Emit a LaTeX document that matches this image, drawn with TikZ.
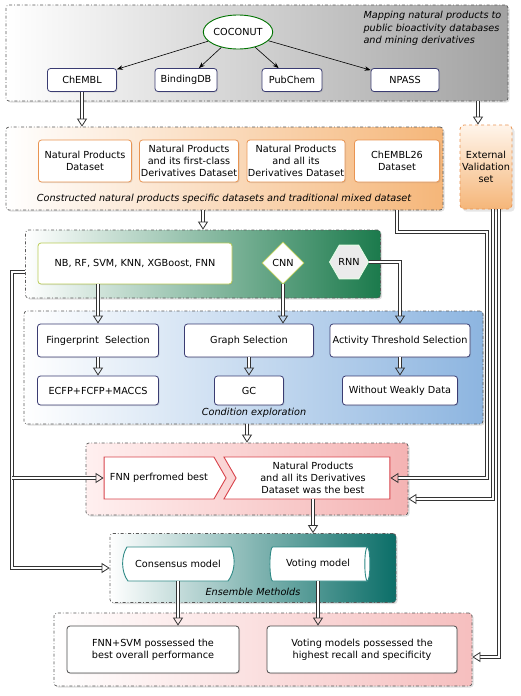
\documentclass[tikz,border=0pt]{standalone}
\usepackage{fontspec}
\setmainfont{DejaVu Sans}
\usetikzlibrary{shapes.geometric, shapes.symbols, arrows.meta, shadows}

\definecolor{navy}{HTML}{3A3C72}
\definecolor{boxorange}{HTML}{E99452}
\definecolor{boxred}{HTML}{D8434B}
\definecolor{boxteal}{HTML}{2F8A86}
\definecolor{leaf}{HTML}{B9CC57}
\definecolor{grayend}{HTML}{A2A2A2}
\definecolor{orangeend}{HTML}{F5B679}
\definecolor{greenend}{HTML}{1B7A4C}
\definecolor{blueend}{HTML}{8DB5E0}
\definecolor{pinkend}{HTML}{F4B3B3}
\definecolor{tealend}{HTML}{0B6E68}

\begin{document}
\begin{tikzpicture}[x=1pt, y=-1pt, font=\fontsize{9.7}{12}\selectfont,
  grp/.style={draw=black!65, line width=0.7pt, dash dot, rounded corners=3pt, drop shadow={opacity=0.25, shadow xshift=1.5pt, shadow yshift=-1.5pt}},
  box/.style={draw=navy, line width=0.8pt, rounded corners=3pt, fill=white, align=center, inner sep=1pt, drop shadow={opacity=0.2, shadow xshift=1pt, shadow yshift=-1pt}},
  dbox/.style={box, draw=boxorange},
  captxt/.style={font=\fontsize{9.7}{12.5}\selectfont\itshape},
  dbl/.style={draw=black!80, double=white, double distance=2pt, line width=1pt, -{Triangle[open, length=8pt, width=10pt, line width=0.8pt]}},
  thin arr/.style={black, line width=0.6pt, -{Stealth[length=6pt]}}]
\useasboundingbox (0,0) rectangle (520,696);

% mapping
\node[grp, left color=white, right color=grayend, minimum width=502, minimum height=96] (gtop) at (257,53) {};
\node[captxt, align=left, anchor=north west] (maptxt) at (360,8) {Mapping natural products to\\public bioactivity databases\\and mining derivatives};
\node[ellipse, draw=green!45!black, line width=0.9pt, fill=white, minimum width=69, minimum height=34, inner sep=0] (coco) at (238,32) {COCONUT};
\node[box, minimum width=69, minimum height=23] (chembl) at (82,80) {ChEMBL};
\node[box, minimum width=62, minimum height=23] (bind) at (186,80) {BindingDB};
\node[box, minimum width=60, minimum height=23] (pub) at (292,80) {PubChem};
\node[box, minimum width=68, minimum height=23] (npass) at (405,80) {NPASS};
\draw[thin arr] (coco) -- (chembl);
\draw[thin arr] (coco) -- (bind);
\draw[thin arr] (coco) -- (pub);
\draw[thin arr] (coco) -- (npass);

% datasets
\node[grp, left color=white, right color=orangeend, minimum width=437, minimum height=83] (gdata) at (224.5,168.5) {};
\node[dbox, minimum width=93, minimum height=42] (npd) at (85,161) {Natural Products\\Dataset};
\node[dbox, minimum width=99, minimum height=42] (npf) at (189,161) {Natural Products\\and its first-class\\Derivatives Dataset};
\node[dbox, minimum width=98, minimum height=42] (npa) at (296,161) {Natural Products\\and all its\\Derivatives Dataset};
\node[dbox, minimum width=85, minimum height=42] (c26) at (397,161) {ChEMBL26\\Dataset};
\node[captxt] (datatxt) at (224,199) {Constructed natural products specific datasets and traditional mixed dataset};
\node[draw=boxorange, line width=0.8pt, dashed, rounded corners=4pt, top color=orange!8, bottom color=orangeend, minimum width=52, minimum height=84, align=center, inner sep=0, drop shadow={opacity=0.2}] (ext) at (486,167) {External\\Validation\\set};
\draw[dbl] (chembl.south) -- (chembl.south |- gdata.north);
\draw[dbl] ([xshift=-8]ext.north |- gtop.south) -- ([xshift=-8]ext.north);

% models
\node[grp, left color=white, right color=greenend, minimum width=355, minimum height=68] (gmod) at (203,264) {};
\node[box, draw=leaf, minimum width=194, minimum height=41] (nb) at (135,263.5) {NB, RF, SVM, KNN, XGBoost, FNN};
\node[diamond, aspect=1, draw=leaf, line width=0.8pt, fill=white, minimum size=42, inner sep=0] (cnn) at (283,263) {CNN};
\node[regular polygon, regular polygon sides=6, draw=green!10, line width=0.8pt, fill=black!8, minimum size=39, inner sep=0] (rnn) at (349,262) {RNN};
\draw[dbl] (gmod.north |- gdata.south) -- (gmod.north);

% condition exploration
\node[grp, left color=white, right color=blueend, minimum width=459, minimum height=113] (gcond) at (253.5,367.5) {};
\node[box, minimum width=121, minimum height=33] (fp) at (98,340.5) {Fingerprint\ \ Selection};
\node[box, minimum width=129, minimum height=33] (graph) at (249,340.5) {Graph Selection};
\node[box, minimum width=140, minimum height=33] (act) at (400,340.5) {Activity Threshold Selection};
\node[box, minimum width=121, minimum height=29] (ecfp) at (98,390.5) {ECFP+FCFP+MACCS};
\node[box, minimum width=69, minimum height=29] (gc) at (249,390.5) {GC};
\node[box, minimum width=115, minimum height=29] (wwd) at (400,390.5) {Without Weakly Data};
\node[captxt] (condtxt) at (254,413) {Condition exploration};
\draw[dbl] (fp.north |- nb.south) -- (fp.north);
\draw[dbl] (cnn.south) -- (cnn.south |- graph.north);
\draw[dbl] (rnn.east) -| (act.north);
\draw[dbl] (fp) -- (ecfp);
\draw[dbl] (graph) -- (gc);
\draw[dbl] (act) -- (wwd);

% best
\node[grp, left color=red!6, right color=pinkend, minimum width=322, minimum height=72] (gbest) at (247,479) {};
\node[signal, signal to=east, signal pointer angle=120, draw=boxred, line width=0.9pt, fill=white, minimum width=122, minimum height=42, inner sep=1pt] (fnnb) at (159,478) {FNN perfromed best};
\node[signal, signal from=west, signal to=nowhere, signal pointer angle=120, draw=boxred, line width=0.9pt, fill=white, minimum width=166, minimum height=42, align=center, inner sep=1pt] (npb) at (313,478) {Natural Products\\and all its Derivatives\\Dataset was the best};
\draw[dbl] (gbest.north |- gcond.south) -- (gbest.north);

% ensemble
\node[grp, left color=white, right color=tealend, minimum width=286, minimum height=69] (gens) at (253,568) {};
\draw[draw=boxteal, line width=0.9pt, fill=white] (127,547) -- (231,547) .. controls (236,558) and (235,572) .. (228,581) -- (128,581) .. controls (121,572) and (121,556) .. cycle;
\node (cons) at (178,564) {Consensus model};
\node[cylinder, shape aspect=0.45, draw=boxteal, line width=0.9pt, fill=white, minimum width=34, minimum height=100, inner sep=1pt] (vote) at (318,564) {Voting model};
\node[captxt] (enstxt) at (253,592) {Ensemble Metholds};
\draw[dbl] (npb.south) -- (npb.south |- gens.north);

% results
\node[grp, left color=white, right color=pinkend!85, minimum width=418, minimum height=73] (gres) at (263,649.5) {};
\node[box, draw=black!70, minimum width=172, minimum height=47] (res1) at (153,649.5) {FNN+SVM possessed the\\best overall performance};
\node[box, draw=black!70, minimum width=190, minimum height=47] (res2) at (362,649.5) {Voting models possessed the\\highest recall and specificity};
\draw[dbl] (cons.south |- 0,581) -- (cons.south |- res1.north);
\draw[dbl] (vote.south) -- (vote.south |- res2.north);

% long connectors
\coordinate (lbend) at (12,272);
\coordinate (lfork) at (12,478);
\draw[dbl] (gmod.west |- lbend) -- (lbend) |- (gens.west);
\draw[dbl] (lfork) -- (fnnb.west);
\draw[dbl] (c26.south |- gdata.south) -- (c26.south |- 0,232) -| (487,478) -- (npb.east);
\draw[dbl] ([xshift=7]ext.south) -- (493,499) -- (gbest.east |- 0,499);
\draw[dbl] ([xshift=13]ext.south) -- (499,657) -- (gres.east |- 0,657);
\end{tikzpicture}
\end{document}
